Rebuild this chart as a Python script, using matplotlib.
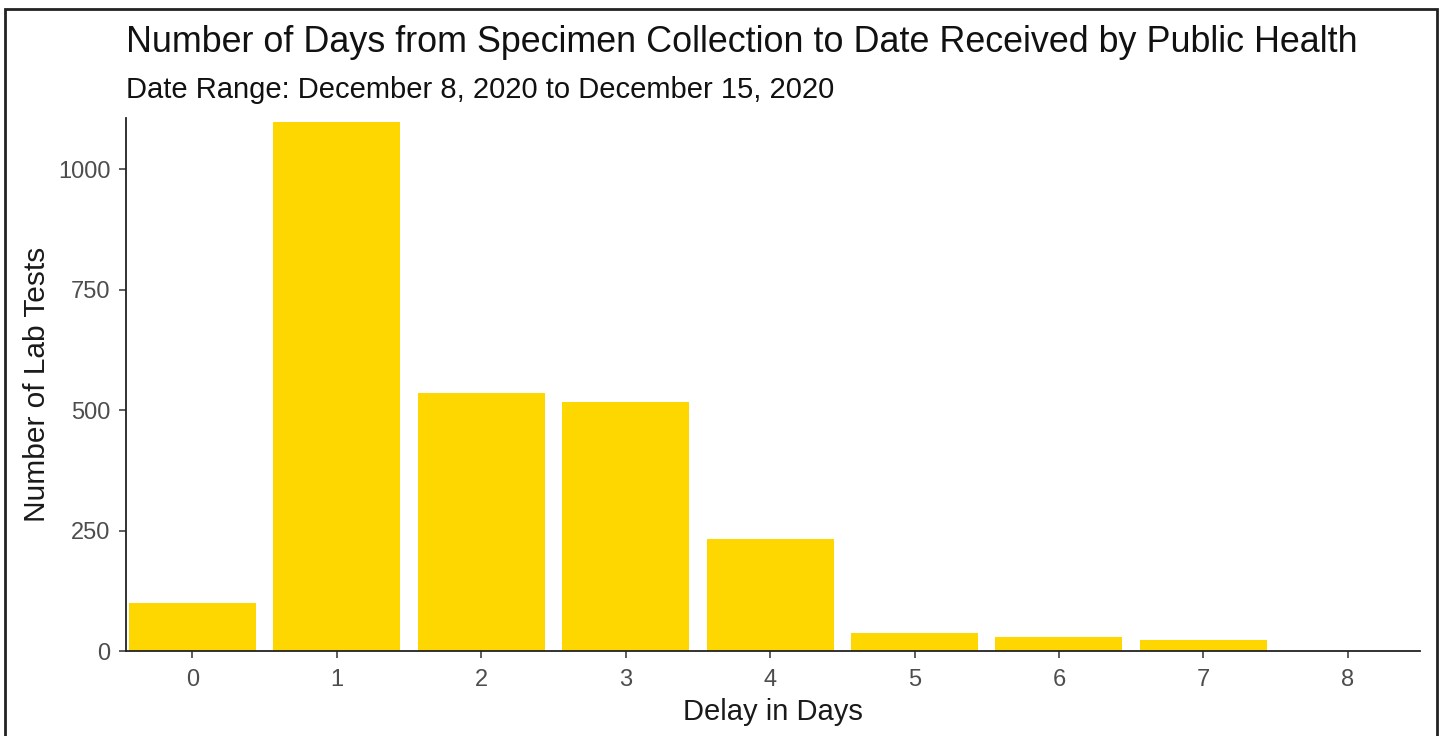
import matplotlib
matplotlib.use("Agg")
import matplotlib.pyplot as plt
from matplotlib.patches import Rectangle

plt.rcParams['font.family'] = ['Liberation Sans', 'DejaVu Sans']

# delay (days) vs number of lab tests
delay_days = [0, 1, 2, 3, 4, 5, 6, 7, 8]
lab_tests = [99, 1097, 536, 516, 233, 38, 30, 22, 0]
y_ticks = [0, 250, 500, 750, 1000]

title = "Number of Days from Specimen Collection to Date Received by Public Health"
subtitle = "Date Range: December 8, 2020 to December 15, 2020"

W, H = 1443, 736
fig = plt.figure(figsize=(W / 100, H / 100), dpi=100)
ax_l, ax_r, ax_t, ax_b = 126, 1420, 118, 651
ax = fig.add_axes([ax_l / W, (H - ax_b) / H, (ax_r - ax_l) / W, (ax_b - ax_t) / H])

ax.bar(delay_days, lab_tests, width=0.88, color="#FFD700", zorder=2)

ax.set_xlim(-0.46, 8.5)
ax.set_ylim(0, 1106)
ax.set_xticks(delay_days)
ax.set_yticks(y_ticks)

for side in ("top", "right"):
    ax.spines[side].set_visible(False)
for side in ("left", "bottom"):
    ax.spines[side].set_linewidth(1.3)
    ax.spines[side].set_color("#222222")

ax.tick_params(axis="both", length=5, width=1.1, color="#333333",
               labelsize=17, labelcolor="#4D4D4D", pad=6)
ax.tick_params(axis="x", pad=8)

ax.set_xlabel("Delay in Days", fontsize=21, color="#1a1a1a", va="center")
ax.set_ylabel("Number of Lab Tests", fontsize=21.5, color="#1a1a1a", va="center")
ax.xaxis.set_label_coords(0.5, (ax_b - 712) / (ax_b - ax_t))
ax.yaxis.set_label_coords((37 - ax_l) / (ax_r - ax_l), 0.5)

fig.text(ax_l / W, 1 - 42 / H, title, fontsize=25.8, color="#111111",
         ha="left", va="center")
fig.text(ax_l / W, 1 - 90 / H, subtitle, fontsize=21, color="#111111",
         ha="left", va="center")

# thin black frame round the whole picture
fig.patches.append(Rectangle((5 / W, -0.05), (1437 - 5) / W, 1 - 9 / H + 0.05,
                             transform=fig.transFigure, fill=False,
                             edgecolor="#222222", linewidth=2))

fig.savefig("out.png", dpi=100)
